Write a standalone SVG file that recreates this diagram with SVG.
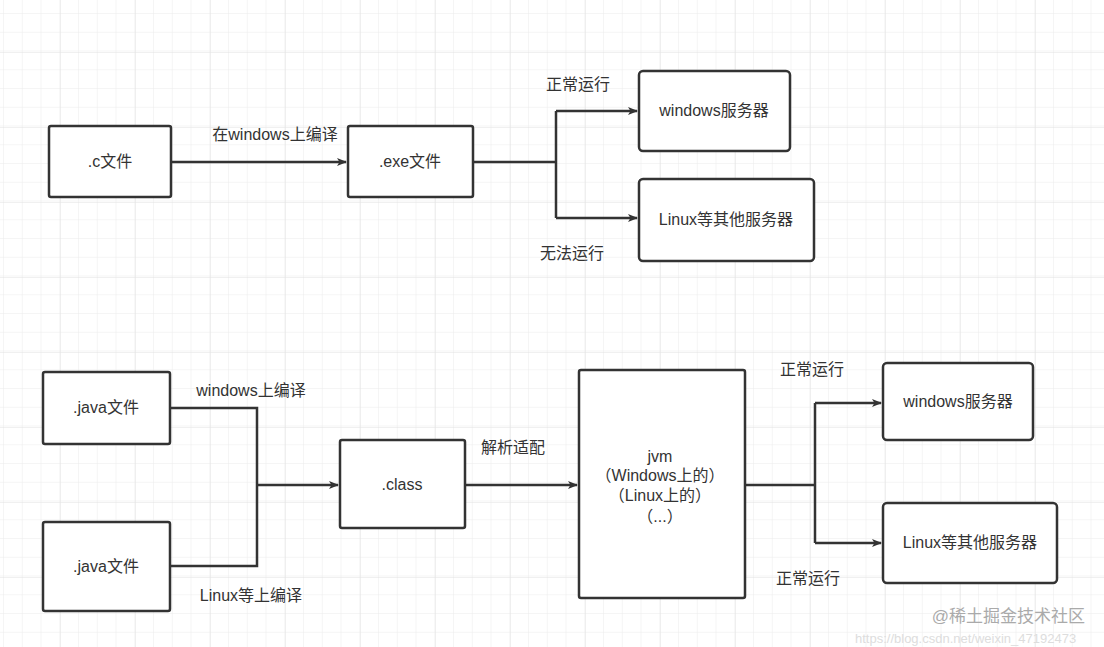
<svg xmlns="http://www.w3.org/2000/svg" width="1104" height="647" viewBox="0 0 1104 647">
<defs>
<pattern id="minor" width="18.75" height="18.75" patternUnits="userSpaceOnUse" x="4" y="14"><path d="M18.75 0V18.75M0 18.75H18.75" fill="none" stroke="#ececec" stroke-width="1"/></pattern>
<pattern id="major" width="75" height="75" patternUnits="userSpaceOnUse" x="60" y="52"><path d="M0 0V75M0 0H75" fill="none" stroke="#e2e2e2" stroke-width="1"/></pattern>
<marker id="ah" viewBox="0 0 10 10" refX="9" refY="5" markerWidth="10" markerHeight="10" markerUnits="userSpaceOnUse" orient="auto"><path d="M0 1L10 5L0 9L2.5 5Z" fill="#333"/></marker>
</defs>
<style>
.box{fill:#fff;stroke:#333;stroke-width:2.5}
.t{font-family:"Liberation Sans","Noto Sans CJK SC",sans-serif;font-size:16px;fill:#333;text-anchor:middle}
.c{fill:none;stroke:#333;stroke-width:2.5}
</style>
<rect width="1104" height="647" fill="#fff"/>
<rect width="1104" height="647" fill="url(#minor)"/>
<rect width="1104" height="647" fill="url(#major)"/>
<g id="connectors">
<path class="c" d="M171 162H346" marker-end="url(#ah)"/>
<path class="c" d="M473 162H556"/>
<path class="c" d="M556 111V218"/>
<path class="c" d="M556 111H637" marker-end="url(#ah)"/>
<path class="c" d="M556 218H637" marker-end="url(#ah)"/>
<path class="c" d="M170 408H257V566H170"/>
<path class="c" d="M257 485H338" marker-end="url(#ah)"/>
<path class="c" d="M465 485H577" marker-end="url(#ah)"/>
<path class="c" d="M745 485H815"/>
<path class="c" d="M815 403V543"/>
<path class="c" d="M815 403H881" marker-end="url(#ah)"/>
<path class="c" d="M815 543H881" marker-end="url(#ah)"/>
</g>
<g id="labels">
<text class="t" x="275" y="140">在windows上编译</text>
<text class="t" x="578" y="90">正常运行</text>
<text class="t" x="572" y="259">无法运行</text>
<text class="t" x="251" y="396">windows上编译</text>
<text class="t" x="251" y="601">Linux等上编译</text>
<text class="t" x="513" y="453">解析适配</text>
<text class="t" x="812" y="375">正常运行</text>
<text class="t" x="808" y="584">正常运行</text>
</g>
<g id="c-file"><rect class="box" x="49" y="126" width="122" height="71" rx="2"/><text class="t" x="110" y="167">.c文件</text></g>
<g id="exe-file"><rect class="box" x="348" y="126" width="125" height="71" rx="2"/><text class="t" x="410" y="167">.exe文件</text></g>
<g id="win-server-1"><rect class="box" x="639" y="71" width="151" height="80" rx="4"/><text class="t" x="714" y="116">windows服务器</text></g>
<g id="linux-server-1"><rect class="box" x="639" y="179" width="175" height="82" rx="4"/><text class="t" x="726" y="225">Linux等其他服务器</text></g>
<g id="java-file-1"><rect class="box" x="43" y="372" width="127" height="72" rx="2"/><text class="t" x="106" y="413">.java文件</text></g>
<g id="java-file-2"><rect class="box" x="43" y="522" width="127" height="89" rx="2"/><text class="t" x="106" y="572">.java文件</text></g>
<g id="class-file"><rect class="box" x="340" y="440" width="125" height="88" rx="2"/><text class="t" x="402" y="490">.class</text></g>
<g id="jvm"><rect class="box" x="579" y="370" width="166" height="228" rx="2"/>
<text class="t" x="660" y="462">jvm</text><text class="t" x="660" y="481">（Windows上的）</text><text class="t" x="660" y="501">（Linux上的）</text><text class="t" x="660" y="522">（...）</text></g>
<g id="win-server-2"><rect class="box" x="883" y="363" width="150" height="77" rx="4"/><text class="t" x="958" y="407">windows服务器</text></g>
<g id="linux-server-2"><rect class="box" x="883" y="503" width="174" height="80" rx="4"/><text class="t" x="970" y="548">Linux等其他服务器</text></g>
<text x="855" y="643" font-family="Liberation Sans,sans-serif" font-size="13" fill="#ddd">https://blog.csdn.net/weixin_47192473</text>
<text x="1085" y="622" text-anchor="end" font-family="Liberation Sans,'Noto Sans CJK SC',sans-serif" font-size="17" fill="#aaa">@稀土掘金技术社区</text>
</svg>
